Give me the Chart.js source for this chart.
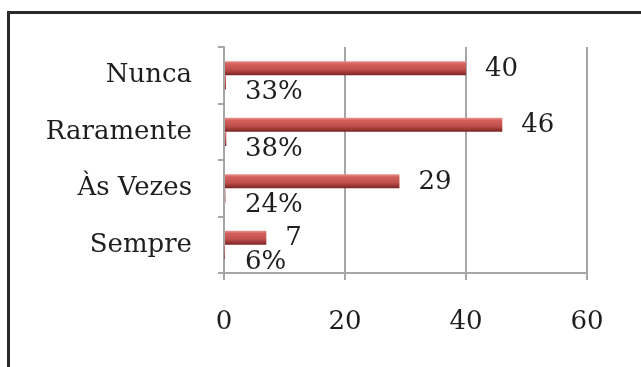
<!DOCTYPE html>
<html>
<head>
<meta charset="utf-8">
<script src="https://cdn.jsdelivr.net/npm/chart.js@4/dist/chart.umd.min.js"></script>
<style>
  html, body { margin: 0; padding: 0; background: #ffffff; }
  canvas { display: block; }
</style>
</head>
<body>
<canvas id="chart" width="641" height="367"></canvas>
<script>
// Answer categories and the two series shown per category
const categories = ['Nunca', 'Raramente', 'Às Vezes', 'Sempre'];
const counts = [40, 46, 29, 7];
const shares = [0.33, 0.38, 0.24, 0.06];
const xTicks = [0, 20, 40, 60];

const FONT = { family: '"DejaVu Serif", "Liberation Serif", serif', size: 26 };
const TEXT = '#1e1e1e';
const GRID = '#a6a6a6';

// Shaded red fill for each bar, light at the top edge and dark at the bottom
const barShading = {
  id: 'barShading',
  beforeDatasetsDraw(chart) {
    const ctx = chart.ctx;
    chart.data.datasets.forEach((ds, di) => {
      chart.getDatasetMeta(di).data.forEach(el => {
        const top = el.y - el.height / 2;
        const bottom = el.y + el.height / 2;
        const g = ctx.createLinearGradient(0, top, 0, bottom);
        g.addColorStop(0, '#e89590');
        g.addColorStop(0.2, '#d4605b');
        g.addColorStop(0.6, '#c0504d');
        g.addColorStop(1, '#7a2422');
        el.options = Object.assign({}, el.options, { backgroundColor: g });
      });
    });
  }
};

// Value labels: count after the bar end, share below the bar
const valueLabels = {
  id: 'valueLabels',
  afterDatasetsDraw(chart) {
    const ctx = chart.ctx;
    ctx.save();
    ctx.font = FONT.size + 'px ' + FONT.family;
    ctx.fillStyle = TEXT;
    ctx.textAlign = 'left';
    ctx.textBaseline = 'middle';
    chart.getDatasetMeta(0).data.forEach((el, i) => {
      ctx.fillText(String(counts[i]), el.x + 19, el.y + 1);
    });
    chart.getDatasetMeta(1).data.forEach((el, i) => {
      ctx.fillText(Math.round(shares[i] * 100) + '%', el.base + 20, el.y + 10);
    });
    ctx.restore();
  }
};

// Outer frame of the chart box
const frame = {
  id: 'frame',
  afterDraw(chart) {
    const ctx = chart.ctx;
    ctx.save();
    ctx.strokeStyle = '#2a2a2a';
    ctx.lineWidth = 3;
    ctx.beginPath();
    ctx.moveTo(8.5, chart.height);
    ctx.lineTo(8.5, 12.5);
    ctx.lineTo(chart.width, 12.5);
    ctx.stroke();
    ctx.restore();
  }
};

new Chart(document.getElementById('chart'), {
  type: 'bar',
  data: {
    labels: categories,
    datasets: [
      { label: 'Total', data: counts, backgroundColor: () => '#c0504d' },
      { label: 'Percentual', data: shares, backgroundColor: () => '#c0504d' }
    ]
  },
  plugins: [barShading, valueLabels, frame],
  options: {
    responsive: false,
    animation: false,
    indexAxis: 'y',
    categoryPercentage: 0.5,
    barPercentage: 1.0,
    layout: { padding: { left: 0, top: 47, right: 54, bottom: 0 } },
    plugins: {
      legend: { display: false },
      tooltip: { enabled: false }
    },
    scales: {
      x: {
        min: xTicks[0],
        max: xTicks[xTicks.length - 1],
        afterBuildTicks(scale) { scale.ticks = xTicks.map(v => ({ value: v })); },
        afterFit(scale) { scale.height = 367 - 273; },
        grid: { color: GRID, lineWidth: 2, tickLength: 7, drawOnChartArea: true },
        border: { color: GRID, width: 2 },
        ticks: { font: FONT, color: TEXT, padding: 27 }
      },
      y: {
        afterFit(scale) { scale.width = 224; },
        grid: { offset: true, drawOnChartArea: false, color: GRID, lineWidth: 2, tickLength: 6 },
        border: { color: GRID, width: 2 },
        ticks: { font: FONT, color: TEXT, padding: 26 }
      }
    }
  }
});
</script>
</body>
</html>
